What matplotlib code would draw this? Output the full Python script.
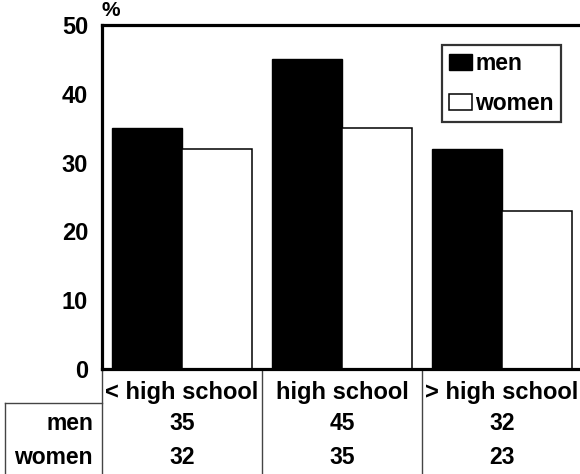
import matplotlib
matplotlib.use("Agg")
import matplotlib.pyplot as plt
from matplotlib.transforms import blended_transform_factory
from matplotlib.patches import Patch
import numpy as np

categories = ["< high school", "high school", "> high school"]
men = [35, 45, 32]
women = [32, 35, 23]
series_names = ["men", "women"]
y_ticks = [0, 10, 20, 30, 40, 50]

plt.rcParams["font.family"] = ["Liberation Sans", "DejaVu Sans"]
plt.rcParams["font.weight"] = "bold"

W, H = 580, 474
fig = plt.figure(figsize=(W / 100, H / 100), dpi=100)

# axes box in pixel terms: left 102, right 582, top 25, bottom 369
left, right, top, bottom = 102, 582, 25, 369
ax = fig.add_axes([left / W, (H - bottom) / H, (right - left) / W, (bottom - top) / H])

x = np.arange(len(categories))
bw = 0.4375
ax.bar(x - bw / 2, men, width=bw, color="black", edgecolor="black", linewidth=1.0)
ax.bar(x + bw / 2, women, width=bw, color="white", edgecolor="black", linewidth=1.1)

ax.set_xlim(-0.5, len(categories) - 0.5)
ax.set_ylim(0, 50)
ax.set_yticks(y_ticks)
ax.set_yticklabels([str(t) for t in y_ticks], fontsize=17, fontweight="bold")
ax.tick_params(axis="y", length=0, pad=10)
ax.set_xticks([])
for s in ax.spines.values():
    s.set_linewidth(2.3)
    s.set_color("black")

# percent sign above the value axis
fig.text(111 / W, (H - 1) / H, "%", fontsize=15, fontweight="bold",
         ha="center", va="top")

# legend
handles = [Patch(facecolor="black", edgecolor="black", linewidth=1.0),
           Patch(facecolor="white", edgecolor="black", linewidth=1.1)]
leg = ax.legend(handles, series_names, loc="upper left",
                bbox_to_anchor=((442 - left) / (right - left), 1 - (45 - top) / (bottom - top)),
                fontsize=16.5, frameon=True, fancybox=False, borderpad=0.3,
                handlelength=1.0, handleheight=0.7, handletextpad=0.15,
                labelspacing=0.75, borderaxespad=0)
leg.get_frame().set_edgecolor("black")
leg.get_frame().set_linewidth(1.6)
for t in leg.get_texts():
    t.set_fontweight("bold")

# data table under the axes
tr = blended_transform_factory(ax.transData, fig.transFigure)
fy = lambda py: (H - py) / H
line_kw = dict(color="#444444", linewidth=1.0, clip_on=False)

header_y = 392
row_ys = [423, 457]
for i, c in enumerate(categories):
    ax.text(i, fy(header_y), c, transform=tr, ha="center", va="center",
            fontsize=17, fontweight="bold")
    ax.text(i, fy(row_ys[0]), str(men[i]), transform=tr, ha="center",
            va="center", fontsize=16.5, fontweight="bold")
    ax.text(i, fy(row_ys[1]), str(women[i]), transform=tr, ha="center",
            va="center", fontsize=16.5, fontweight="bold")

# column dividers
for xb in np.arange(len(categories) + 1) - 0.5:
    ax.plot([xb, xb], [fy(bottom), fy(H + 2)], transform=tr, **line_kw)

# row-label cell
ft = fig.transFigure
ax.plot([5 / W, left / W], [fy(403), fy(403)], transform=ft, **line_kw)
ax.plot([5 / W, 5 / W], [fy(403), fy(H + 2)], transform=ft, **line_kw)
for name, yy in zip(series_names, row_ys):
    fig.text(93 / W, fy(yy), name, ha="right", va="center",
             fontsize=16.5, fontweight="bold")

fig.savefig("out.png", dpi=100)
